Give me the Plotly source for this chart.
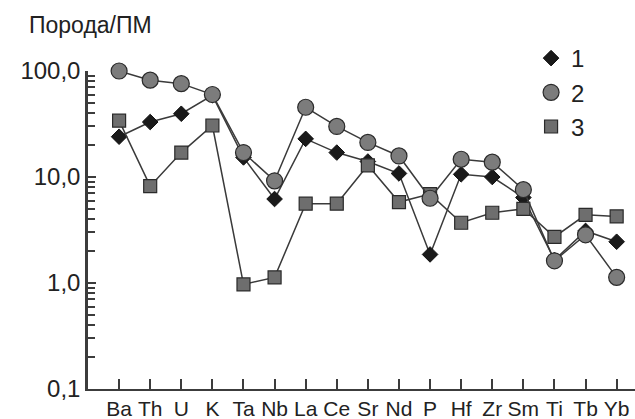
import plotly.graph_objects as go

elements = ["Ba", "Th", "U", "K", "Ta", "Nb", "La", "Ce", "Sr", "Nd", "P",
            "Hf", "Zr", "Sm", "Ti", "Tb", "Yb"]

series1 = [24.0, 33.0, 39.5, 59.0, 15.3, 6.2, 22.9, 17.0, 14.0, 10.8, 1.86,
           10.6, 10.0, 6.4, 1.65, 3.1, 2.45]
series2 = [100.0, 82.0, 76.0, 60.0, 17.0, 9.2, 45.5, 30.0, 21.2, 15.8, 6.3,
           14.7, 13.8, 7.6, 1.62, 2.85, 1.13]
series3 = [34.0, 8.2, 17.0, 30.6, 0.97, 1.13, 5.6, 5.6, 12.9, 5.8, 6.9,
           3.7, 4.6, 5.0, 2.72, 4.4, 4.25]

names = ["1", "2", "3"]

FONT = "Liberation Sans, Arial, sans-serif"
LINE = "#3a3a3a"
AXIS = "#3c3c3c"

styles = [
    dict(symbol="diamond", size=12, color="#1a1a1a", line=dict(color="#111111", width=1)),
    dict(symbol="circle", size=16, color="#7c7c7c", line=dict(color="#2a2a2a", width=1.2)),
    dict(symbol="square", size=13, color="#6e6e6e", line=dict(color="#2a2a2a", width=1.2)),
]
data = [series1, series2, series3]

fig = go.Figure()
for idx in [0, 2, 1]:
    fig.add_trace(go.Scatter(
        x=elements, y=data[idx], name=names[idx], mode="lines+markers",
        line=dict(color=LINE, width=1.5), marker=styles[idx],
        cliponaxis=False, showlegend=False))
# legend entries (markers only)
for idx in range(3):
    fig.add_trace(go.Scatter(
        x=[None], y=[None], name=names[idx], mode="markers",
        marker=styles[idx], legendgroup=str(idx), legendrank=idx + 1))

fig.update_layout(
    width=635, height=419,
    margin=dict(l=88, r=0, t=71, b=30),
    paper_bgcolor="white", plot_bgcolor="white",
    separators=", ",
    font=dict(family=FONT, size=20, color="#222222"),
    showlegend=True,
    legend=dict(x=0.81, y=1.11, xanchor="left", yanchor="top",
                font=dict(size=24, color="#222222"),
                traceorder="normal", tracegroupgap=0,
                bgcolor="rgba(0,0,0,0)"),
    annotations=[dict(text="Порода/ПМ", xref="paper", yref="paper",
                      x=-0.112, y=1.145, xanchor="left", yanchor="middle",
                      showarrow=False, font=dict(size=23, color="#222222"))],
)

fig.update_xaxes(
    type="category", range=[-1, 16.59],
    showline=True, linecolor=AXIS, linewidth=2,
    ticks="inside", ticklen=10, tickwidth=1.5, tickcolor=AXIS,
    showgrid=False, zeroline=False,
    tickfont=dict(size=21, color="#222222"))

fig.update_yaxes(
    type="log", range=[-1, 2],
    dtick=1, tickformat=".1f",
    showline=True, linecolor=AXIS, linewidth=2.5,
    ticks="inside", ticklen=8, tickwidth=2, tickcolor=AXIS,
    minor=dict(dtick="D1", ticks="inside", ticklen=7, tickwidth=2,
               tickcolor=AXIS, showgrid=False),
    showgrid=False, zeroline=False,
    tickfont=dict(size=24, color="#222222"))

fig.write_html("out.html")
